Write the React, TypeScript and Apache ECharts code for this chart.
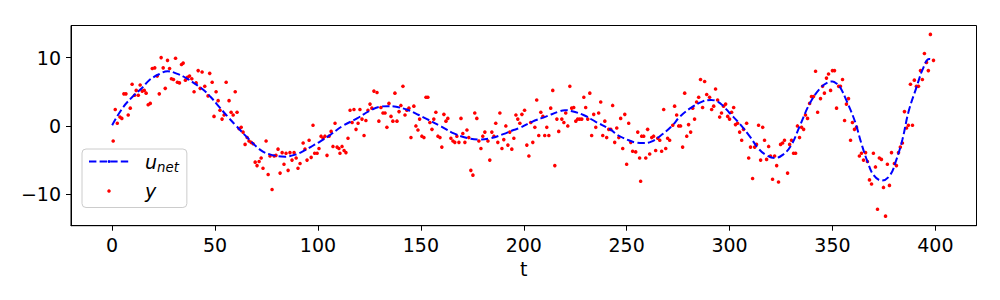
import React, { useEffect, useRef } from 'react';
import * as echarts from 'echarts';

// scatter observations y: [t, value]
const seg1: [number, number][] = [[0.5,-2.2],[1.5,2.4],[2.5,0.4],[3.8,1.3],[4.7,1.1],[5.7,4.7],[6.7,4.7],[7.8,1.6],[8.8,2.6],[9.7,6.1],[10.9,4.5],[11.7,5.2],[12.7,4.5],[13.6,6.0],[14.6,5.1],[15.6,5.2],[16.5,4.8],[17.5,3.1],[18.5,3.3],[19.5,8.4],[20.7,8.5],[21.9,7.3],[22.9,4.7],[23.8,10.0],[24.8,8.5],[25.8,5.5],[26.9,9.6],[27.9,8.4],[28.8,6.9],[29.8,6.8],[30.8,9.9],[31.7,6.4],[32.7,6.3],[33.7,9.0],[34.5,9.2],[35.6,6.7],[36.6,7.1],[37.6,7.3],[38.7,6.9],[39.8,5.0],[40.8,6.3],[41.8,8.1],[42.8,5.5],[43.7,7.9]];
const seg2: [number, number][] = [[45.0,5.8],[46.6,4.4],[47.4,7.7],[48.6,6.4],[49.5,1.4],[50.5,5.0],[51.5,3.7],[52.4,2.3],[53.4,1.0],[54.4,1.6],[55.4,6.4],[56.8,3.7],[57.8,2.0],[58.8,1.6],[59.8,5.0],[60.7,2.0],[61.7,-0.4],[62.7,-0.2],[63.6,-0.9],[64.6,-2.7],[65.6,-1.7],[66.5,-2.2],[67.5,-2.4],[68.5,-2.6],[69.5,-5.3],[70.4,-5.8],[71.4,-5.2],[72.4,-4.7],[73.3,-6.2],[74.8,-2.2],[75.8,-7.1],[76.7,-4.4],[77.7,-9.3],[78.7,-4.4],[79.6,-4.3],[80.6,-3.4],[81.6,-6.9],[82.6,-3.9],[83.5,-5.6],[84.5,-4.0],[85.5,-6.5],[86.4,-3.9],[87.4,-5.0],[88.4,-3.9],[89.4,-4.7],[90.3,-6.2],[91.3,-5.5],[92.8,-2.5],[93.7,-3.4],[94.7,-5.0],[95.7,-2.1],[96.7,-4.6],[97.6,0.1],[98.4,-4.0]];
const seg3: [number, number][] = [[99.6,-4.0],[100.5,-3.3],[101.5,-1.5],[102.5,-1.8],[103.4,-1.5],[104.4,-4.3],[105.4,-1.5],[106.4,-0.8],[107.3,-3.0],[108.3,0.4],[109.3,-3.1],[110.2,-3.3],[110.7,-4.0],[111.7,-3.0],[112.7,-3.6],[113.6,-3.9],[114.6,-1.8],[115.6,2.3],[116.6,0.5],[117.5,2.4],[118.5,-0.5],[119.5,0.4],[120.4,2.4],[121.4,1.0],[122.4,-1.4],[123.3,0.8],[124.3,2.3],[125.3,3.2],[126.2,2.6],[127.2,5.1],[128.7,4.9],[129.6,0.7],[130.6,2.7],[131.6,1.9],[132.6,1.9],[133.5,-0.2],[134.5,3.3],[135.5,1.4],[136.4,0.7],[137.4,4.8],[138.4,0.7],[139.4,2.1],[140.3,3.0],[141.3,5.8],[142.3,1.6],[143.2,2.3],[144.2,2.6],[145.2,-1.7],[146.6,2.9],[147.6,0.0],[148.6,-0.6],[149.4,1.0]];
const seg4: [number, number][] = [[150.5,-1.5],[151.5,-1.7],[152.5,4.2],[153.4,4.2],[154.4,0.5],[155.4,-0.5],[156.3,1.0],[157.3,2.0],[158.3,-1.5],[159.3,-1.7],[160.2,-3.1],[161.2,1.7],[162.2,0.7],[163.1,1.1],[164.6,-1.8],[165.6,-2.2],[166.5,-2.4],[167.5,-1.5],[168.5,-2.4],[169.5,1.1],[170.4,-1.1],[171.4,-2.4],[172.4,-0.6],[173.3,-1.7],[174.3,-6.5],[175.3,-7.2],[176.2,1.9],[177.2,1.1],[178.2,-2.2],[179.2,-3.3],[180.1,-1.5],[181.1,-0.9],[182.6,-2.2],[183.5,-5.0],[184.5,-0.9],[185.5,-1.5],[186.4,0.4],[187.4,-2.4],[188.4,1.9],[189.4,-3.3],[190.3,-2.0],[191.3,0.0],[192.3,-2.8],[193.2,-0.9],[194.2,-3.4],[195.2,-1.8],[196.2,1.6],[197.1,1.0],[198.1,0.4],[199.1,1.7],[200.4,2.3]];
const seg5: [number, number][] = [[201.5,-2.8],[202.5,-4.4],[203.4,0.5],[204.4,-2.4],[205.4,-0.2],[206.3,3.8],[207.3,-1.4],[208.3,2.0],[209.3,1.4],[210.2,-1.4],[211.2,-0.2],[212.2,-1.4],[213.1,2.6],[214.1,5.2],[215.1,-5.8],[216.1,1.0],[217.0,-0.8],[218.5,1.0],[219.5,0.5],[220.4,1.9],[221.4,0.0],[222.4,5.8],[223.3,2.6],[224.3,2.7],[225.3,0.7],[226.2,1.0],[227.2,1.0],[228.2,1.0],[229.2,4.2],[230.1,2.7],[231.1,1.0],[232.1,4.8],[233.0,-1.4],[234.0,1.7],[235.0,-0.2],[236.4,1.9],[237.4,3.5],[238.4,-1.4],[239.4,0.7],[240.3,-1.7],[241.3,-0.5],[242.3,-0.5],[243.2,3.0],[244.2,-2.4],[245.2,-0.3],[246.2,-1.7],[247.1,1.1],[248.1,-3.3],[249.1,1.7],[250.0,-5.6],[251.0,0.4]];
const seg6: [number, number][] = [[252.0,-2.4],[252.9,-3.7],[254.4,-3.8],[255.4,-0.9],[256.3,-4.7],[257.3,-1.5],[256.8,-8.1],[258.3,-1.5],[259.3,-4.7],[260.2,-0.5],[261.2,-4.1],[262.2,-1.7],[263.1,-1.5],[264.1,-3.6],[265.1,-1.8],[266.1,-2.1],[267.0,-3.7],[268.0,2.4],[269.0,-3.3],[269.9,-1.8],[270.9,-2.1],[272.4,0.1],[273.3,2.9],[274.3,1.6],[275.3,0.0],[276.2,0.0],[277.2,-3.1],[278.2,4.8],[279.2,-1.5],[280.1,0.2],[281.1,-0.9],[282.1,2.6],[283.0,1.0],[284.0,3.5],[285.0,4.2],[285.9,6.8],[286.9,2.7],[287.9,6.5],[288.9,4.6],[290.3,4.2],[291.3,2.4],[292.3,2.9],[293.2,5.4],[294.2,3.8],[295.2,1.3],[296.1,1.9],[297.1,2.9],[298.1,3.2],[299.1,1.4],[300.0,1.0],[301.0,2.0],[302.0,2.7]];
const seg7: [number, number][] = [[302.9,0.2],[303.9,0.4],[304.9,-0.9],[305.9,-2.1],[306.8,-0.5],[308.3,0.4],[309.3,-4.7],[310.2,-3.1],[311.2,-7.7],[312.2,-3.1],[313.1,-2.7],[314.1,0.1],[315.1,-5.0],[316.1,-0.2],[317.0,-2.1],[318.0,-4.9],[319.0,-3.0],[319.9,-4.4],[320.9,-7.8],[321.9,-4.4],[322.9,-5.8],[323.8,-8.2],[324.8,-2.7],[325.8,-2.5],[326.7,-2.1],[328.2,-6.9],[329.2,-2.7],[330.1,-2.1],[331.1,-4.0],[332.1,-4.0],[333.0,0.0],[334.0,-1.7],[335.0,-0.2],[336.0,-0.5],[336.9,1.6],[337.9,1.1],[338.9,3.3],[339.8,4.3],[340.8,4.3],[341.8,8.0],[342.8,2.0],[344.2,4.0],[345.2,5.8],[346.1,4.8],[347.1,7.0],[348.1,7.6],[349.1,5.2],[350.0,8.1],[351.0,8.1],[352.0,2.6],[353.0,5.8]];
const seg8: [number, number][] = [[353.9,5.8],[354.9,6.8],[355.9,0.8],[356.8,3.2],[357.8,4.0],[358.8,-2.1],[359.7,0.5],[360.7,-0.5],[361.7,-0.2],[363.1,-4.4],[364.1,-4.0],[365.1,-5.0],[366.1,-3.9],[367.0,-5.2],[368.0,-7.9],[369.0,-8.5],[369.9,-4.0],[370.9,-6.0],[371.9,-12.2],[372.8,-4.7],[373.8,-4.9],[374.8,-9.0],[375.8,-13.2],[376.7,-5.6],[377.7,-8.7],[378.7,-3.9],[380.1,-5.5],[381.1,-5.8],[382.1,-3.9],[383.0,-3.1],[384.0,-2.5],[385.0,2.1],[386.0,-0.3],[386.9,0.1],[387.9,6.1],[388.9,0.1],[389.8,6.7],[390.8,5.8],[391.8,5.8],[392.8,8.1],[393.7,6.8],[394.7,10.6],[395.7,9.3],[396.6,8.1],[397.6,13.4],[399.1,9.6]];

// fitted network output u_net
const uT = [0,5,10,15,18,23,27,31,36,42,45,48,52,56,60,66,72,77,84,89,94,98,101,106,112,119,125,130,134,138,144,149,153,160,166,173,178,184,190,195,198,204,211,217,220,223,229,235,242,246,251,254,258,262,267,272,276,281,287,291,294,297,300,305,310,314,318,322,326,330,334,339,344,348,350,352,354,357,361,364,367,370,374,378,381,384,387,391,394,397,399];
const uV = [0.1,2.6,4.3,5.7,6.7,7.6,8.0,7.7,7.0,5.8,5.1,4.2,2.8,1.4,0.1,-1.8,-3.5,-4.2,-4.5,-4.2,-3.5,-2.8,-2.3,-1.3,0,1.1,2.2,2.8,2.9,2.8,2.3,1.6,1.0,-0.1,-1.1,-1.8,-2.0,-1.8,-1.2,-0.6,-0.3,0.6,1.4,2.1,2.3,2.2,1.6,0.6,-0.5,-1.4,-2.1,-2.4,-2.5,-2.3,-1.3,0.0,1.4,2.6,3.6,3.8,3.6,2.9,1.9,0.3,-1.6,-3.3,-4.3,-4.7,-4.2,-2.8,-0.1,3.3,5.5,6.4,6.5,6.2,5.5,3.6,0.6,-2.5,-5.2,-7.2,-8.0,-7.2,-5.0,-2.0,2.1,5.8,8.4,9.8,9.7];

const xTicks = [0, 50, 100, 150, 200, 250, 300, 350, 400];
const yTicks = [-10, 0, 10];

const FONT = 'DejaVu Sans';

export default function App() {
  const ref = useRef<HTMLDivElement>(null);
  useEffect(() => {
    if (!ref.current) return;
    const chart = echarts.init(ref.current, undefined, { renderer: 'svg' });
    const yPoints = [...seg1, ...seg2, ...seg3, ...seg4, ...seg5, ...seg6, ...seg7, ...seg8];
    const uPoints = uT.map((t, i) => [t, uV[i]]);
    const fmt = (v: number) => (v < 0 ? '\u2212' + Math.abs(v) : String(v));
    chart.setOption({
      animation: false,
      textStyle: { fontFamily: FONT },
      grid: {
        left: 71, right: 23.5, top: 25.5, bottom: 74.3,
        show: true, borderColor: '#000', borderWidth: 1,
        containLabel: false, outerBoundsMode: 'none',
      },
      xAxis: {
        type: 'value', min: -20, max: 420,
        name: 't', nameLocation: 'middle', nameGap: 30,
        nameTextStyle: { fontSize: 19, color: '#000', fontFamily: FONT },
        axisLine: { show: true, onZero: false, lineStyle: { color: '#000', width: 1 } },
        axisTick: { show: true, length: 5, lineStyle: { color: '#000', width: 1 }, customValues: xTicks },
        axisLabel: { fontSize: 19, color: '#000', margin: 10, fontFamily: FONT, customValues: xTicks, formatter: fmt },
        splitLine: { show: false },
      },
      yAxis: {
        type: 'value', min: -14.6, max: 14.7,
        axisLine: { show: true, onZero: false, lineStyle: { color: '#000', width: 1 } },
        axisTick: { show: true, length: 5, lineStyle: { color: '#000', width: 1 }, customValues: yTicks },
        axisLabel: { fontSize: 19, color: '#000', margin: 10, fontFamily: FONT, customValues: yTicks, formatter: fmt },
        splitLine: { show: false },
      },
      legend: {
        orient: 'vertical', left: 82, top: 149,
        padding: [3, 8, 7, 6], itemGap: 8, itemWidth: 40, itemHeight: 3.5,
        backgroundColor: 'rgba(255,255,255,0.8)', borderColor: '#cccccc', borderWidth: 1, borderRadius: 4,
        data: ['u_net', 'y'],
        formatter: (name: string) => (name === 'u_net' ? '{u|u}{s|net}' : '{u|y}'),
        textStyle: {
          fontFamily: FONT, fontSize: 19, color: '#000',
          rich: {
            u: { fontFamily: FONT, fontSize: 19, fontStyle: 'italic', color: '#000', lineHeight: 24, padding: [0, 0, 0, 11] },
            s: { fontFamily: FONT, fontSize: 13.3, fontStyle: 'italic', color: '#000', lineHeight: 13, verticalAlign: 'bottom' },
          },
        },
      },
      series: [
        {
          type: 'line', name: 'u_net', data: uPoints, smooth: 0.4,
          symbol: 'none', showSymbol: false, z: 3,
          lineStyle: { color: '#0000ff', width: 2, type: [7.4, 3.2], opacity: 1 },
          itemStyle: { color: '#0000ff' },
        },
        {
          type: 'scatter', name: 'y', data: yPoints, symbol: 'circle', symbolSize: 3.6, z: 2,
          itemStyle: { color: '#ff0000', opacity: 1 },
        },
      ],
    });
    return () => chart.dispose();
  }, []);
  return <div ref={ref} style={{ position: 'absolute', left: 0, top: 0, width: 1000, height: 300 }} />;
}
